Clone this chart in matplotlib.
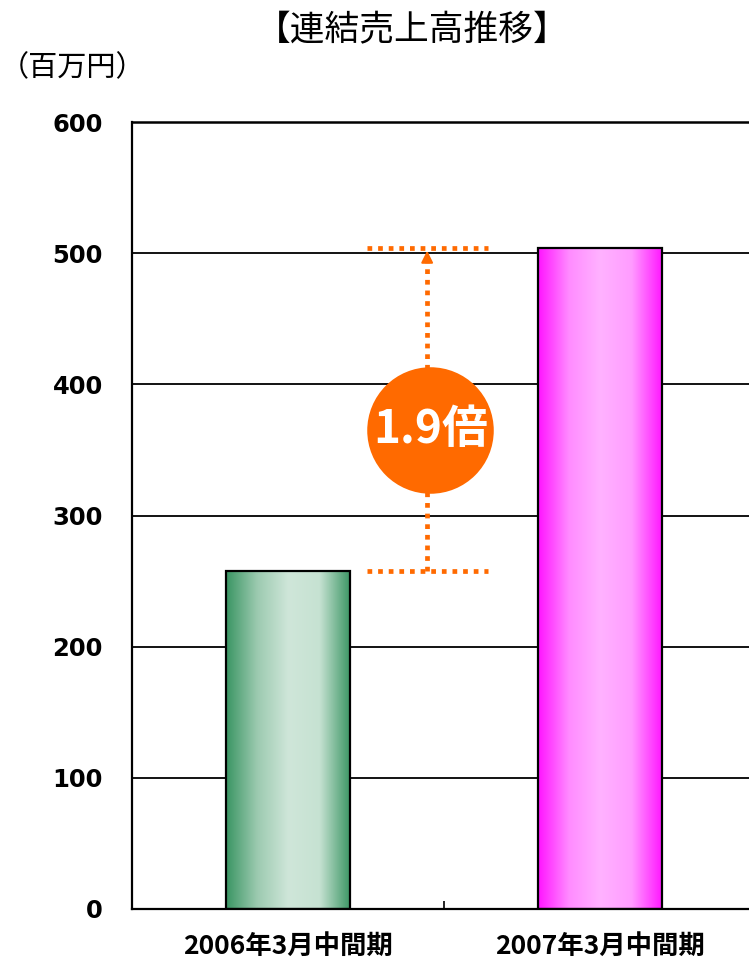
import numpy as np
import matplotlib
matplotlib.use("Agg")
import matplotlib.pyplot as plt
from matplotlib.colors import LinearSegmentedColormap

plt.rcParams['font.family'] = ['Noto Sans CJK JP', 'DejaVu Sans']

# データ（百万円）
periods = ["2006年3月中間期", "2007年3月中間期"]
sales = [258, 504]
ratio_label = "1.9倍"
yticks = [0, 100, 200, 300, 400, 500, 600]

# 棒のグラデーション（端 -> 中央 -> 端）
bar_gradients = [
    ["#3a9563", "#9ccab0", "#cfe6d9", "#c6e2d2", "#3a9563"],
    ["#ff14ff", "#ff8cff", "#ffb2ff", "#ff9cff", "#ff14ff"],
]
orange = "#ff6a00"

fig = plt.figure(figsize=(7.49, 9.6), dpi=100)
ax = fig.add_axes([132 / 749, 1 - 909 / 960, 624 / 749, 787 / 960])

x = np.arange(len(sales))
bars = ax.bar(x, sales, width=0.4, facecolor="none", edgecolor="black",
              linewidth=1.6, zorder=3)

# グラデーション塗り
for rect, cols in zip(bars, bar_gradients):
    cmap = LinearSegmentedColormap.from_list("g", cols)
    grad = np.linspace(0, 1, 256).reshape(1, -1)
    x0, w, h = rect.get_x(), rect.get_width(), rect.get_height()
    im = ax.imshow(grad, cmap=cmap, aspect="auto", extent=(x0, x0 + w, 0, h),
                   zorder=2, interpolation="bicubic")
    im.set_clip_path(rect)

ax.set_xlim(-0.5, 1.5)
ax.set_ylim(0, 600)
ax.set_yticks(yticks)
ax.set_yticklabels([str(v) for v in yticks], family="DejaVu Sans",
                   fontweight="bold", fontsize=17.5)
ax.tick_params(axis="y", length=0, pad=21)
ax.set_xticks(x)
ax.set_xticklabels(periods, fontweight="bold", fontsize=19)
ax.tick_params(axis="x", length=0, pad=17)
ax.set_xticks([0.5], minor=True)
ax.tick_params(axis="x", which="minor", direction="in", length=6, width=1.2)

ax.grid(axis="y", color="black", linewidth=1.3, zorder=1)
ax.set_axisbelow(True)
ax.axhline(600, color="black", linewidth=1.8, zorder=1, clip_on=False)
for s in ["top", "right"]:
    ax.spines[s].set_visible(False)
ax.spines["left"].set_linewidth(1.6)
ax.spines["bottom"].set_linewidth(1.6)

# 倍率の注記
xa = 0.446
dots = dict(color=orange, linewidth=3.4, linestyle=(0, (1, 1.25)),
            dash_capstyle="butt", zorder=4, clip_on=False)
ax.plot([0.253, 0.641], [sales[0], sales[0]], **dots)
ax.plot([0.253, 0.641], [sales[1], sales[1]], **dots)
ax.plot([xa, xa], [sales[0], sales[1] - 8], **dots)
ax.annotate("", xy=(xa, sales[1]), xytext=(xa, sales[1] - 12),
            arrowprops=dict(arrowstyle="-|>,head_length=0.7,head_width=0.35",
                            color=orange, lw=1.5), zorder=5)
ax.scatter([xa + 0.01], [365], s=8300, color=orange, zorder=6, linewidths=0)
ax.text(xa + 0.01, 365, ratio_label, color="white", fontsize=33,
        fontweight="bold", ha="center", va="center", zorder=7)

fig.text(412 / 749, 1 - 31 / 960, "【連結売上高推移】", fontsize=25,
         ha="center", va="center")
fig.text(0, 1 - 68 / 960, "（百万円）", fontsize=21, ha="left", va="center")

fig.savefig("out.png", dpi=100)
